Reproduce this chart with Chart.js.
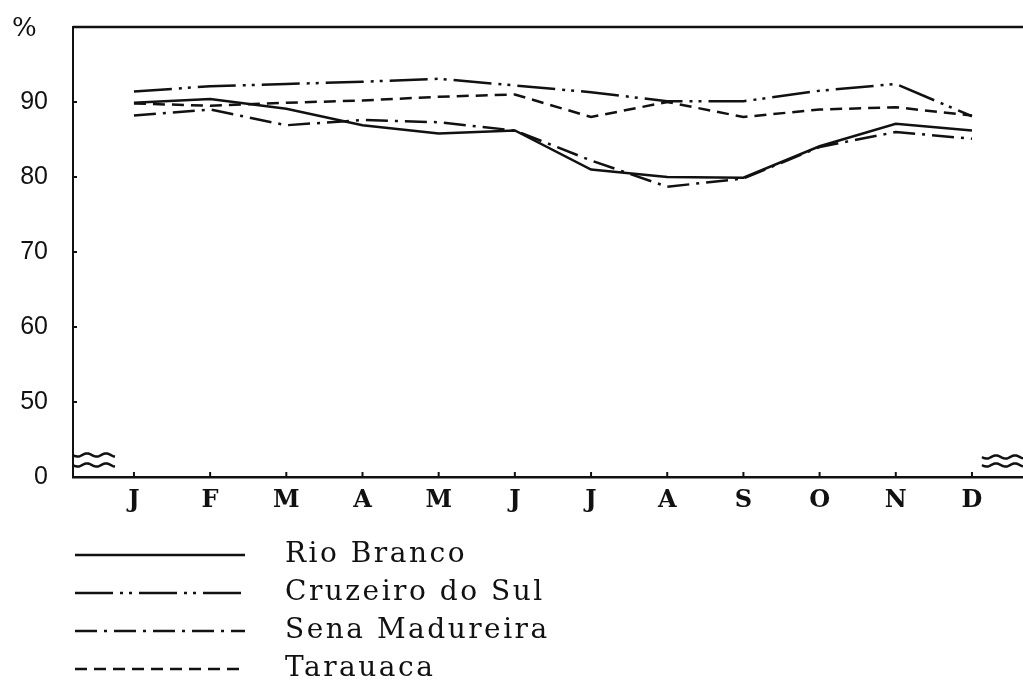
<!DOCTYPE html>
<html>
<head>
<meta charset="utf-8">
<script src="https://cdn.jsdelivr.net/npm/chart.js@4.4.1/dist/chart.umd.min.js"></script>
<style>
  html, body { margin: 0; padding: 0; background: #fff; }
  #wrap { position: relative; width: 1023px; height: 684px; overflow: hidden; }
  #pct { position: absolute; left: 12px; top: 12px; font: 26px "DejaVu Serif", serif; color: #111; }
  .row { position: absolute; left: 0; height: 38px; width: 700px; }
  .row svg { position: absolute; left: 75px; top: 14px; }
  .row span { position: absolute; left: 285px; top: 0px; font: 28px "DejaVu Serif", serif; letter-spacing: 2.5px; color: #111; white-space: nowrap; }
</style>
</head>
<body>
<div id="wrap">
  <canvas id="chart"></canvas>
  <div id="pct">%</div>
  <div id="legend"></div>
</div>
<script>
// months on the x axis
const months = ['J', 'F', 'M', 'A', 'M', 'J', 'J', 'A', 'S', 'O', 'N', 'D'];

// relative humidity (%)
const rioBranco      = [89.9, 90.4, 89.1, 86.9, 85.8, 86.2, 81.0, 80.0, 79.9, 84.1, 87.1, 86.2];
const cruzeiroDoSul  = [91.4, 92.1, 92.4, 92.7, 93.1, 92.2, 91.3, 90.1, 90.1, 91.5, 92.4, 88.1];
const senaMadureira  = [88.2, 89.0, 86.9, 87.6, 87.3, 86.2, 82.2, 78.7, 79.8, 84.0, 86.0, 85.1];
const tarauaca       = [89.8, 89.5, 89.9, 90.2, 90.7, 91.0, 88.0, 90.0, 88.0, 89.0, 89.3, 88.2];

// y axis is broken: the bottom tick stands for 0
const yTicks = [40, 50, 60, 70, 80, 90];
const yTickLabels = ['0', '50', '60', '70', '80', '90'];

const ink = '#111';

function series(label, values, dash) {
  return {
    label: label,
    data: values.map((v, i) => ({ x: i + 1, y: v })),
    borderColor: ink,
    borderWidth: 2.5,
    borderDash: dash,
    pointRadius: 0,
    fill: false,
    tension: 0,
  };
}

const datasets = [
  series('Rio Branco', rioBranco, []),
  series('Cruzeiro do Sul', cruzeiroDoSul, [38, 7, 3, 6, 3, 7]),
  series('Sena Madureira', senaMadureira, [22, 7, 3, 7]),
  series('Tarauaca', tarauaca, [12, 7]),
];

// wavy line used for the axis break marks
function wave(ctx, x0, x1, y) {
  ctx.beginPath();
  ctx.moveTo(x0, y);
  for (let x = x0; x <= x1; x += 1) {
    ctx.lineTo(x, y + 1.6 * Math.sin((x - x0) / 3));
  }
  ctx.stroke();
}

// top border, small inner ticks and the break marks
const framePlugin = {
  id: 'frame',
  afterDraw(chart) {
    const { ctx, chartArea: a, scales: { x, y } } = chart;
    ctx.save();
    ctx.strokeStyle = ink;
    ctx.lineWidth = 2.5;
    ctx.beginPath();
    ctx.moveTo(a.left, a.top);
    ctx.lineTo(a.right, a.top);
    ctx.stroke();

    ctx.lineWidth = 2;
    y.ticks.forEach((t) => {
      const py = y.getPixelForValue(t.value);
      ctx.beginPath();
      ctx.moveTo(a.left, py);
      ctx.lineTo(a.left + 4, py);
      ctx.stroke();
    });
    x.ticks.forEach((t) => {
      const px = x.getPixelForValue(t.value);
      ctx.beginPath();
      ctx.moveTo(px, a.bottom);
      ctx.lineTo(px, a.bottom - 5);
      ctx.stroke();
    });

    ctx.lineWidth = 2.5;
    wave(ctx, a.left, a.left + 42, a.bottom - 22);
    wave(ctx, a.left, a.left + 42, a.bottom - 12);
    wave(ctx, a.right - 41, a.right, a.bottom - 20);
    wave(ctx, a.right - 41, a.right, a.bottom - 12);
    ctx.restore();
  },
};

const chart = new Chart(document.getElementById('chart'), {
  type: 'line',
  data: { datasets: datasets },
  options: {
    responsive: true,
    maintainAspectRatio: false,
    animation: false,
    layout: { padding: { top: 27, right: 0, bottom: 167, left: 0 } },
    plugins: {
      legend: { display: false },
      tooltip: { enabled: false },
    },
    scales: {
      x: {
        type: 'linear',
        min: 0.2,
        max: 12.67,
        afterBuildTicks: (s) => { s.ticks = months.map((m, i) => ({ value: i + 1 })); },
        afterFit: (s) => { s.height = 40; },
        grid: { display: false, drawTicks: false },
        border: { color: ink, width: 2.5 },
        ticks: {
          autoSkip: false,
          maxRotation: 0,
          padding: 9,
          color: ink,
          font: { family: '"DejaVu Serif", serif', size: 24, weight: 'bold' },
          callback: (v) => months[v - 1],
        },
      },
      y: {
        min: 40,
        max: 100,
        afterBuildTicks: (s) => { s.ticks = yTicks.map((v) => ({ value: v })); },
        afterFit: (s) => { s.width = 73; s.paddingTop = 0; s.paddingBottom = 0; },
        grid: { display: false, drawTicks: false },
        border: { color: ink, width: 2 },
        ticks: {
          padding: 25,
          color: ink,
          font: { family: '"Liberation Sans", Arial, sans-serif', size: 25 },
          callback: (v) => yTickLabels[yTicks.indexOf(v)],
        },
      },
    },
  },
  plugins: [framePlugin],
});

// legend below the chart, one entry per row
const legend = document.getElementById('legend');
chart.data.datasets.forEach((ds, i) => {
  const row = document.createElement('div');
  row.className = 'row';
  row.style.top = (536 + i * 38) + 'px';
  const dash = ds.borderDash.length ? ds.borderDash.join(' ') : 'none';
  row.innerHTML =
    '<svg width="170" height="10"><line x1="0" y1="5" x2="170" y2="5" stroke="' + ink +
    '" stroke-width="2.5" stroke-dasharray="' + dash + '"/></svg>' +
    '<span>' + ds.label + '</span>';
  legend.appendChild(row);
});
</script>
</body>
</html>
